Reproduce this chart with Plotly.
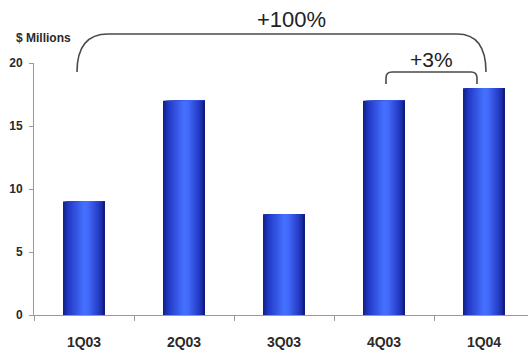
import plotly.graph_objects as go

categories = ["1Q03", "2Q03", "3Q03", "4Q03", "1Q04"]
revenue = [9, 17, 8, 17, 18]
y_ticks = [0, 5, 10, 15, 20]
unit_label = "$ Millions"
growth_total = "+100%"
growth_qoq = "+3%"

xpos = list(range(len(categories)))
bar_w = 0.42

# horizontal gradient stops for the cylinder-like bars (position, rgb)
stops = [(0.0, (18, 30, 125)), (0.12, (32, 56, 196)), (0.5, (70, 112, 255)),
         (0.6, (66, 106, 250)), (0.88, (32, 54, 190)), (1.0, (16, 26, 115))]

def col(t):
    for (a, ca), (b, cb) in zip(stops[:-1], stops[1:]):
        if a <= t <= b:
            f = (t - a) / (b - a)
            c = [round(ca[i] + (cb[i] - ca[i]) * f) for i in range(3)]
            return f"rgb({c[0]},{c[1]},{c[2]})"
    return "rgb(16,26,115)"

fig = go.Figure()
N = 28
for i in range(N):
    t0 = i / N
    fig.add_trace(go.Bar(
        x=xpos, y=revenue,
        width=bar_w * (1 - t0),
        offset=-bar_w / 2 + bar_w * t0,
        marker=dict(color=col(t0 + 0.5 / N), line=dict(width=0)),
        showlegend=False, hoverinfo="skip",
    ))

axis_col = "#9a9a9a"
txt_col = "#2a2a2a"
line_col = "#4a4a4a"

fig.update_layout(
    barmode="overlay",
    width=528, height=354,
    margin=dict(l=34, r=0, t=63, b=39),
    paper_bgcolor="white", plot_bgcolor="white",
    font=dict(family="Liberation Sans, Arial", color=txt_col),
    xaxis=dict(
        range=[-0.5, 4.44], tickvals=xpos, ticktext=categories,
        ticks="outside", ticklen=0, ticklabelstandoff=14,
        tickfont=dict(size=14, weight="bold", color=txt_col),
        showline=True, linecolor=axis_col, linewidth=1,
        showgrid=False, zeroline=False,
        minor=dict(tickvals=[-0.5, 0.5, 1.5, 2.5, 3.5], ticks="outside",
                   ticklen=5, tickcolor=axis_col, showgrid=False),
    ),
    yaxis=dict(
        range=[0, 20], tickvals=y_ticks,
        ticks="outside", ticklen=4, tickcolor=axis_col, ticklabelstandoff=4,
        tickfont=dict(size=12, weight="bold", color=txt_col),
        showline=True, linecolor=axis_col, linewidth=1,
        showgrid=False, zeroline=False,
    ),
)

def py(pix):
    # pixel row -> paper y
    return (315 - pix) / 252

# large bracket from first to last quarter
xa, xb = xpos[0] - 0.07, xpos[-1] + 0.02
yb, yt = py(72), py(34)
big = (f"M {xa},{yb} Q {xa},{yt} {xa + 0.31},{yt} L {xb - 0.29},{yt} "
       f"Q {xb},{yt} {xb},{yb}")
fig.add_shape(type="path", path=big, xref="x", yref="paper",
              line=dict(color=line_col, width=1.6))
fig.add_annotation(x=(xpos[0] + xpos[-1]) / 2 + 0.07, y=py(20), xref="x", yref="paper",
                   yanchor="middle", text=growth_total, showarrow=False,
                   font=dict(size=22, color="#222222", family="Liberation Sans, Arial"))

# small bracket between last two quarters
sa, sb = xpos[3] + 0.02, xpos[4] - 0.07
sbot, stop_ = py(84), py(72)
r = 0.06
small = (f"M {sa},{sbot} L {sa},{py(78)} Q {sa},{stop_} {sa + r},{stop_} "
         f"L {sb - r},{stop_} Q {sb},{stop_} {sb},{py(78)} L {sb},{sbot}")
fig.add_shape(type="path", path=small, xref="x", yref="paper",
              line=dict(color=line_col, width=1.6))
fig.add_annotation(x=(sa + sb) / 2, y=py(59), xref="x", yref="paper",
                   yanchor="middle", text=growth_qoq, showarrow=False,
                   font=dict(size=21, color="#222222", family="Liberation Sans, Arial"))

fig.add_annotation(x=(14 - 34) / 494, y=py(38), xref="paper", yref="paper",
                   text=unit_label, showarrow=False, xanchor="left", yanchor="middle",
                   font=dict(size=12, weight="bold", color=txt_col))

fig.write_html("out.html")
